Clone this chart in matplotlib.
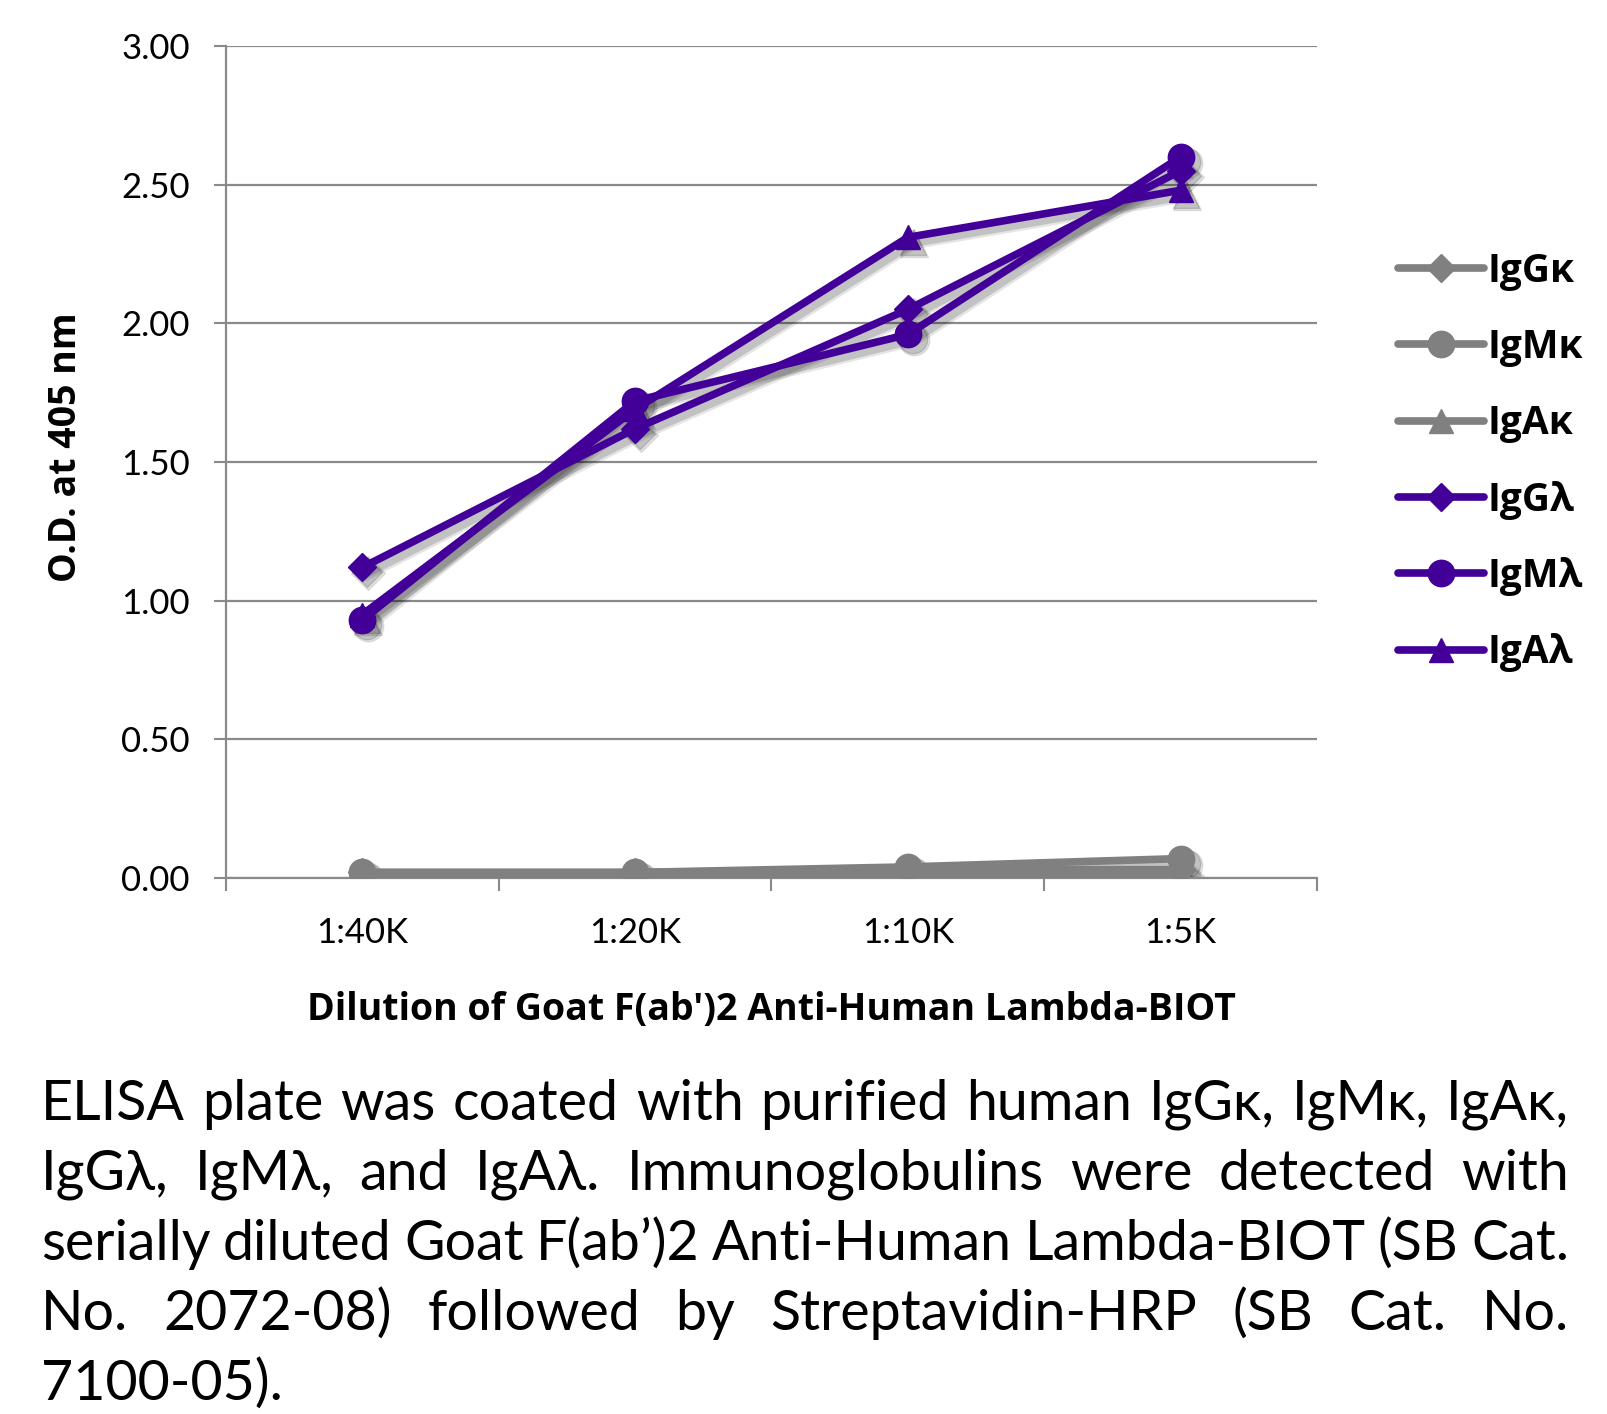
import matplotlib
matplotlib.use("Agg")
import matplotlib.pyplot as plt
import matplotlib.transforms as mtransforms
import numpy as np

# --- Data ---
dilutions = ["1:40K", "1:20K", "1:10K", "1:5K"]
series_names = ["IgGκ", "IgMκ", "IgAκ", "IgGλ", "IgMλ", "IgAλ"]
igg_k = [0.02, 0.02, 0.03, 0.03]
igm_k = [0.02, 0.02, 0.04, 0.07]
iga_k = [0.01, 0.01, 0.01, 0.01]
igg_l = [1.12, 1.62, 2.05, 2.55]
igm_l = [0.93, 1.72, 1.96, 2.60]
iga_l = [0.95, 1.69, 2.31, 2.48]
y_ticks = [0.0, 0.5, 1.0, 1.5, 2.0, 2.5, 3.0]

caption_lines = [
    "ELISA plate was coated with purified human IgGκ, IgMκ, IgAκ,",
    "IgGλ, IgMλ, and IgAλ.  Immunoglobulins were detected with",
    "serially diluted Goat F(ab’)2 Anti-Human Lambda-BIOT (SB Cat.",
    "No. 2072-08) followed by Streptavidin-HRP (SB Cat. No.",
    "7100-05).",
]

GRAY = "#808080"
PURPLE = "#420099"
FONT = ["Lato", "DejaVu Sans"]
BOLD_FONT = ["Open Sans", "DejaVu Sans"]
plt.rcParams["font.family"] = FONT

W, H = 1608, 1414
fig = plt.figure(figsize=(W / 100, H / 100), dpi=100)
ax = fig.add_axes([226 / W, 1 - 878 / H, (1317 - 226) / W, (878 - 46) / H])

x = np.arange(len(dilutions)) + 0.5
series = [igg_k, igm_k, iga_k, igg_l, igm_l, iga_l]
colors = [GRAY] * 3 + [PURPLE] * 3
markers = ["D", "o", "^", "D", "o", "^"]
sizes = [14, 19, 17, 14, 19, 17]

# soft drop shadow: same series drawn offset in translucent black
for off, a, extra in [(6, 0.10, 3.0), (5, 0.15, 1.5)]:
    shadow_tr = mtransforms.offset_copy(ax.transData, fig=fig, x=off, y=-off, units="dots")
    for vals, m, s in zip(series, markers, sizes):
        ax.plot(x, vals, color="black", alpha=a, marker=m, markersize=s + extra,
                lw=5.5 + extra, transform=shadow_tr, zorder=2)
for vals, name, c, m, s in zip(series, series_names, colors, markers, sizes):
    ax.plot(x, vals, color=c, marker=m, markersize=s, lw=5.5, label=name,
            solid_capstyle="round", zorder=3)

ax.set_xlim(0, len(dilutions))
ax.set_ylim(0, 3.0)
ax.set_yticks(y_ticks)
ax.set_yticklabels([f"{v:.2f}" for v in y_ticks])
ax.grid(True, axis="y", color="#8a8a8a", lw=1.6, zorder=0)
ax.set_axisbelow(True)

ax.set_xticks(np.arange(len(dilutions) + 1))
ax.set_xticklabels([])
ax.set_xticks(x, minor=True)
ax.set_xticklabels(dilutions, minor=True)
ax.tick_params(axis="x", which="major", direction="out", length=9, width=1.5, color="#8a8a8a")
ax.tick_params(axis="x", which="minor", length=0, pad=28, labelsize=25)
ax.tick_params(axis="y", direction="out", length=9, width=1.5, color="#8a8a8a", pad=17, labelsize=25)

for side in ["top", "right"]:
    ax.spines[side].set_visible(False)
for side in ["left", "bottom"]:
    ax.spines[side].set_color("#8a8a8a")
    ax.spines[side].set_linewidth(1.6)

ax.set_ylabel("O.D. at 405 nm", fontsize=27, fontweight="bold", family=BOLD_FONT)
ax.yaxis.set_label_coords(-0.129, 0.518)
ax.set_xlabel("Dilution of Goat F(ab')2 Anti-Human Lambda-BIOT", fontsize=27,
              fontweight="bold", family=BOLD_FONT)
ax.xaxis.set_label_coords(0.5, -0.136)

leg = fig.legend(loc="center left", bbox_to_anchor=(1398 / W, 1 - 462 / H), frameon=False,
                 prop={"size": 28, "weight": "bold", "family": BOLD_FONT}, handlelength=2.2,
                 handletextpad=0.1, labelspacing=0.96, borderpad=0, borderaxespad=0)

# --- justified caption ---
left, right = 41, 1569
baselines = [1120, 1190, 1260, 1330, 1400]
cap_size = 40
renderer = fig.canvas.get_renderer()
for i, (line, base) in enumerate(zip(caption_lines, baselines)):
    words = line.split()
    yf = 1 - base / H
    if i == len(caption_lines) - 1:
        fig.text(left / W, yf, line, fontsize=cap_size, va="baseline", ha="left")
        continue
    texts = [fig.text(0, yf, w_, fontsize=cap_size, va="baseline", ha="left") for w_ in words]
    widths = [t.get_window_extent(renderer).width for t in texts]
    gap = (right - left - sum(widths)) / (len(words) - 1)
    pos = left
    for t, wd in zip(texts, widths):
        t.set_x(pos / W)
        pos += wd + gap

fig.savefig("out.png", dpi=100)
